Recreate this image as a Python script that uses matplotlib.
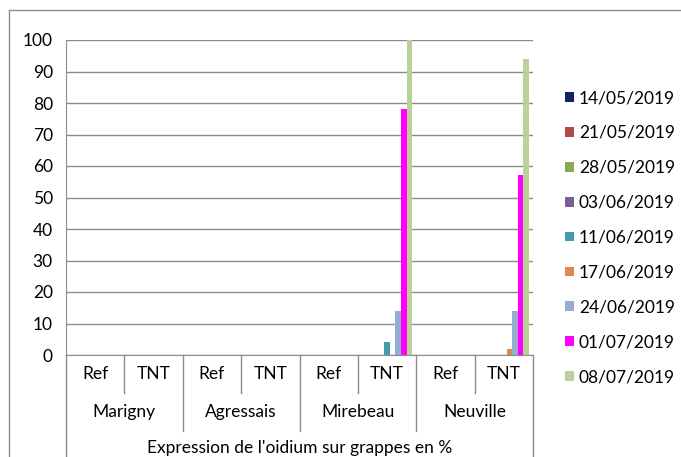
import matplotlib
matplotlib.use('Agg')
import matplotlib.pyplot as plt
import numpy as np
from matplotlib.lines import Line2D

plt.rcParams['font.family'] = ['Lato', 'DejaVu Sans']

# Oidium expression on grapes (%), per site and treatment
sites = ['Marigny', 'Agressais', 'Mirebeau', 'Neuville']
treatments = ['Ref', 'TNT']
dates = ['14/05/2019', '21/05/2019', '28/05/2019', '03/06/2019', '11/06/2019',
         '17/06/2019', '24/06/2019', '01/07/2019', '08/07/2019']
colors = ['#0F2660', '#B0494A', '#8AAA52', '#7A5E99', '#4599B1',
          '#E0884A', '#94ABD2', '#FF00FF', '#BBD199']

# one list per date, 8 values: Marigny Ref/TNT, Agressais Ref/TNT, Mirebeau Ref/TNT, Neuville Ref/TNT
values = [
    [0, 0, 0, 0, 0, 0, 0, 0],
    [0, 0, 0, 0, 0, 0, 0, 0],
    [0, 0, 0, 0, 0, 0, 0, 0],
    [0, 0, 0, 0, 0, 0, 0, 0],
    [0, 0, 0, 0, 0, 4, 0, 0],
    [0, 0, 0, 0, 0, 0, 0, 2],
    [0, 0, 0, 0, 0, 14, 0, 14],
    [0, 0, 0, 0, 0, 78, 0, 57],
    [0, 0, 0, 0, 0, 100, 0, 94],
]
axis_title = "Expression de l'oidium sur grappes en %"

FS = 12.5
W, H = 681, 457
fig = plt.figure(figsize=(W / 100, H / 100), dpi=100)
ax = fig.add_axes([66 / W, 1 - 355 / H, (533 - 66) / W, (355 - 40) / H])

n_cat = len(sites) * len(treatments)
x = np.arange(n_cat)
bw = 1 / (len(dates) + 1.5)
for i, (d, c, v) in enumerate(zip(dates, colors, values)):
    ax.bar(x + (i - (len(dates) - 1) / 2) * bw, v, bw, color=c, label=d, linewidth=0)

ax.set_xlim(-0.5, n_cat - 0.5)
ax.set_ylim(0, 100)
ax.set_yticks(range(0, 101, 10))
ax.tick_params(axis='y', length=0, pad=9.5, labelsize=FS)
ax.set_xticks([])
ax.yaxis.grid(True, color='#8C8C8C', linewidth=1)
ax.set_axisbelow(True)
for s in ['top', 'right']:
    ax.spines[s].set_visible(False)
ax.spines['left'].set_color('#8C8C8C')
ax.spines['bottom'].set_color('#8C8C8C')

# multi-level category axis
tr = ax.get_xaxis_transform()
row = 38 / (355 - 40)
for k in range(n_cat + 1):
    xb = k - 0.5
    if k in (0, n_cat):
        depth = 3.2 * row
    elif k % 2 == 0:
        depth = 2 * row
    else:
        depth = row
    ax.add_line(Line2D([xb, xb], [0, -depth], transform=tr, color='#8C8C8C',
                       linewidth=1, clip_on=False))
for k in range(n_cat):
    ax.text(k, -row / 2, treatments[k % 2], transform=tr, ha='center', va='center',
            fontsize=FS)
for j, s in enumerate(sites):
    ax.text(2 * j + 0.5, -1.5 * row, s, transform=tr, ha='center', va='center',
            fontsize=FS)
ax.text((n_cat - 1) / 2, -2.45 * row, axis_title, transform=tr, ha='center',
        va='center', fontsize=FS)

# chart frame
fig.add_artist(Line2D([9 / W, 9 / W], [0, 1 - 10 / H], color='#8C8C8C', linewidth=1))
fig.add_artist(Line2D([9 / W, 1], [1 - 10 / H, 1 - 10 / H], color='#8C8C8C', linewidth=1))

ax.legend(loc='upper left', bbox_to_anchor=(565 / W, 1 - 90 / H),
          bbox_transform=fig.transFigure, frameon=False, fontsize=FS,
          handlelength=0.5, handleheight=0.5, handletextpad=0.3,
          labelspacing=1.09, borderaxespad=0, borderpad=0)

plt.savefig('out.png', dpi=100, facecolor='white')
plt.close()
